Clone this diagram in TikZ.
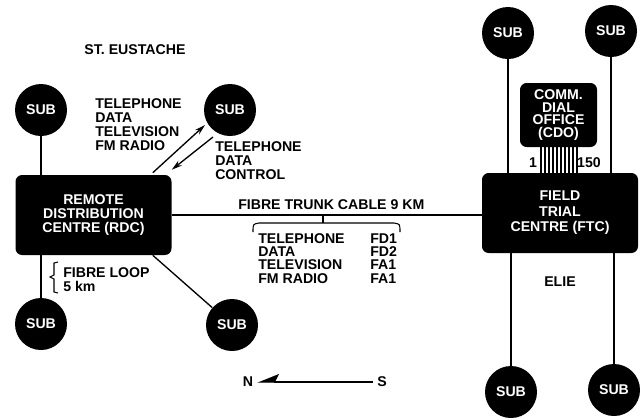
\documentclass[tikz,border=0pt]{standalone}
\usepackage{fontspec}
\setmainfont{Liberation Sans}
\usetikzlibrary{arrows.meta}
\definecolor{ink}{gray}{0.0}
\tikzset{
  lab/.style={font=\bfseries\fontsize{10.6}{10.5}\selectfont,align=left,inner sep=0pt},
  tab/.style={lab,font=\bfseries\fontsize{10.6}{10}\selectfont},
  subv/.style={circle,fill=ink,text=white,minimum size=39pt,inner sep=0pt,font=\bfseries\fontsize{10.6}{10}\selectfont},
  hub/.style={rectangle,rounded corners=5pt,fill=ink,text=white,align=center,inner sep=0pt,minimum width=117pt,minimum height=60pt,font=\bfseries\fontsize{10.6}{10.2}\selectfont},
  wire/.style={draw=ink,line width=1pt},
  flow/.style={wire,-{Stealth[length=8pt,width=4.5pt]}},
}
\begin{document}
\begin{tikzpicture}[x=0.75pt,y=-0.75pt]
  \useasboundingbox (0,0) rectangle (641,419);
  \node[lab] (stE) at (135,50) {ST. EUSTACHE};
  \node[hub] (rdc) at (93.5,215) {REMOTE\\DISTRIBUTION\\CENTRE (RDC)};
  \node[hub,font=\bfseries\fontsize{10.6}{11.6}\selectfont] (ftc) at (560,213) {FIELD\\TRIAL\\CENTRE (FTC)};
  \node[hub,minimum width=57.75pt,minimum height=48pt,font=\bfseries\fontsize{10.6}{9.3}\selectfont] (cdo) at (558.5,115) {COMM.\\DIAL\\OFFICE\\(CDO)};
  \node[subv] (s1) at (41,110) {SUB};
  \node[subv] (s2) at (230,110) {SUB};
  \node[subv] (s3) at (41,324) {SUB};
  \node[subv] (s4) at (232,325) {SUB};
  \node[subv] (s5) at (508,33) {SUB};
  \node[subv] (s6) at (611,31) {SUB};
  \node[subv] (s7) at (511,392) {SUB};
  \node[subv] (s8) at (614,390) {SUB};
  \draw[wire] (s1) -- (s1 |- rdc.north);
  \draw[wire] (s3) -- (s3 |- rdc.south);
  \draw[wire] ([shift={(-19,0)}]rdc.south east) -- (s4);
  \draw[flow] ([shift={(-19,-2)}]rdc.north east) -- ([shift={(-25,15)}]s2.center);
  \draw[flow] ([shift={(-17,27)}]s2.center) -- ([shift={(0,-5)}]rdc.north east);
  \draw[wire] (rdc.east) -- (rdc.east -| ftc.west);
  \draw[wire] (s5) -- (s5 |- ftc.north);
  \draw[wire] (s6) -- (s6 |- ftc.north);
  \draw[wire] (s7) -- (s7 |- ftc.south);
  \draw[wire] (s8) -- (s8 |- ftc.south);
  \foreach \lx in {541,545,...,577}
    \draw[wire,line width=0.8pt] (\lx,0 |- cdo.south) -- (\lx,0 |- ftc.north);
  \node[lab] (one) at (533,163) {1};
  \node[lab] (last) at (589,163) {150};
  \node[lab,anchor=north west] (fwd) at (95,98) {TELEPHONE\\DATA\\TELEVISION\\FM RADIO};
  \node[lab,anchor=north west] (back) at (215,141) {TELEPHONE\\DATA\\CONTROL};
  \node[lab,anchor=base west] (trk) at (238,209) {FIBRE TRUNK CABLE 9 KM};
  \draw[wire,line width=0.8pt] (253,232) .. controls (253,224) .. (259,223) -- (394,223) .. controls (400,224) .. (400,232);
  \draw[wire,line width=0.8pt] (323,223) -- (323,0 |- rdc.east);
  \node[tab,anchor=north west] (svc) at (258,233) {TELEPHONE\\DATA\\TELEVISION\\FM RADIO};
  \node[tab,anchor=north west] (code) at (370,233) {FD1\\FD2\\FA1\\FA1};
  \draw[wire,line width=0.8pt] (58,262) -- (54,263) -- (54,275) -- (50,277) -- (54,279) -- (54,292) -- (58,293);
  \node[lab,anchor=north west] (loop) at (63,267) {FIBRE LOOP\\5 km};
  \node[lab] (elie) at (560,282) {ELIE};
  \node[lab,inner sep=3pt] (nth) at (248,382) {N};
  \node[lab,inner sep=3pt] (sth) at (382,382) {S};
  \draw[wire,-{Stealth[harpoon,swap,length=15pt,width=12pt,inset=3pt]}] (sth) -- (nth);
\end{tikzpicture}
\end{document}
